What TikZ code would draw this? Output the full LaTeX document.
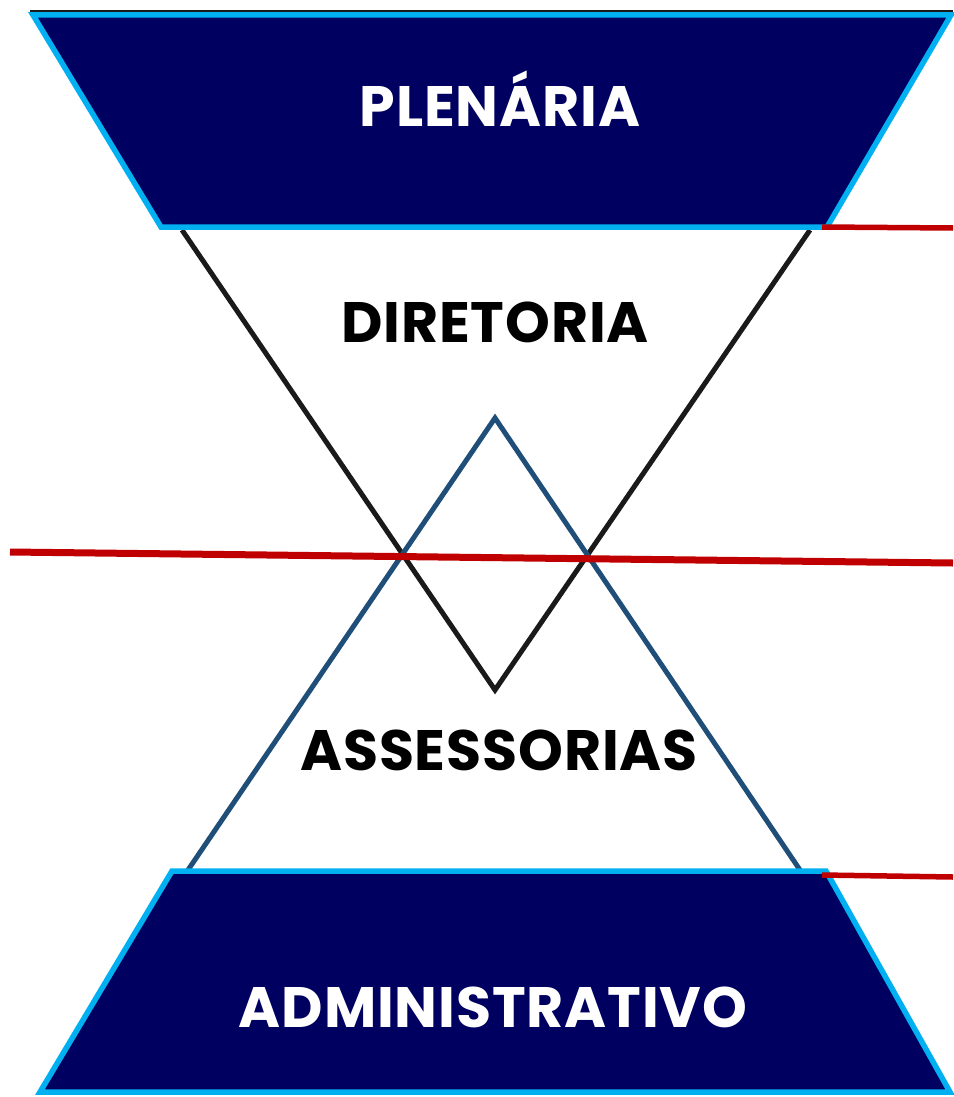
\documentclass[tikz,border=0pt]{standalone}
\usepackage{fontspec}
\setmainfont{Poppins}[BoldFont={Poppins Bold}, LetterSpace=1.5]
\definecolor{navy}{HTML}{000060}
\definecolor{cyanb}{HTML}{00B0F0}
\definecolor{steel}{HTML}{1F4E79}
\definecolor{redl}{HTML}{C00000}
\definecolor{blk}{HTML}{1A1A1A}
\tikzset{
  trap/.style={fill=navy, draw=cyanb, line width=5.5pt, line join=miter},
  vline/.style={draw=blk, line width=5pt, line join=miter},
  tline/.style={draw=steel, line width=5pt, line join=miter},
  rline/.style={draw=redl, line width=7pt},
  rshort/.style={draw=redl, line width=5.5pt},
  lab/.style={font=\fontsize{57}{62}\selectfont\bfseries, anchor=base, inner sep=0pt},
}
\begin{document}
\begin{tikzpicture}[x=1pt,y=-1pt]
\useasboundingbox (0,0) rectangle (953,1097);
% coordinates
\coordinate (vl) at (182,230);
\coordinate (vb) at (495,690);
\coordinate (vr) at (810,230);
\coordinate (tl) at (188,870);
\coordinate (ta) at (495,418);
\coordinate (tr) at (800,870);
\draw[vline] (vl) -- (vb) -- (vr);
\draw[tline] (tl) -- (ta) -- (tr);
% top
\coordinate (b1) at (30,11);
\coordinate (b2) at (953,11);
\draw[draw=blk, line width=2pt] (b1) -- (b2);
\path[trap] (33,15) -- (951,15) -- (827,227) -- (161,227) -- cycle;
% bottom
\path[trap] (172,871) -- (826,871) -- (950,1092) -- (40,1092) -- cycle;
% red lines
\coordinate (r1) at (10,552);
\coordinate (r2) at (953,563);
\draw[rline] (r1) -- (r2);
\coordinate (r3) at (822,227);
\coordinate (r4) at (953,228);
\draw[rshort] (r3) -- (r4);
\coordinate (r5) at (822,875);
\coordinate (r6) at (953,877);
\draw[rshort] (r5) -- (r6);
% labels
\node[lab, text=white] (plen) at (500,127) {PLENÁRIA};
\node[lab, text=black] (dir) at (495,342) {DIRETORIA};
\node[lab, text=black] (ass) at (499,770) {ASSESSORIAS};
\node[lab, text=white] (adm) at (493,1027) {ADMINISTRATIVO};
\end{tikzpicture}
\end{document}
